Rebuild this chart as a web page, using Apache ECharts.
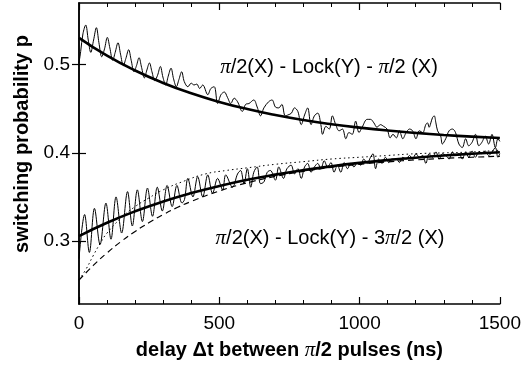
<!DOCTYPE html>
<html>
<head>
<meta charset="utf-8">
<script src="https://cdn.jsdelivr.net/npm/echarts@6/dist/echarts.min.js"></script>
<style>html,body{margin:0;padding:0;background:#fff;}#c{width:524px;height:366px;}</style>
</head>
<body>
<div id="c"></div>
<script>
// ---- data ----
const xTicks = [0, 500, 1000, 1500];
const yTicks = [0.3, 0.4, 0.5];

// noisy trace: pi/2(X) - Lock(Y) - pi/2(X)
const upperTime = [
  0,6,14,24,33,42,52,62,71,81,91,101,110,120,129,139,148,158,167,177,
  186,196,205,214,223,233,242,251,260,270,280,290,299,309,318,328,337,347,356,366,375,388,
  400,410,420,430,441,459,470,482,494,506,518,529,541,553,565,582,594,606,623,635,
  647,659,676,688,700,712,723,735,
  745,757,768,780,792,804,815,827,839,851,862,868,880,892,903,915,927,939,951,962,
  974,986,998,1009,1027,1039,1051,1062,1074,1086,1098,1109,
  1119,1131,1142,1154,1166,1178,1189,1201,1213,1225,1236,1242,1248,1254,1260,1266,1272,1278,1289,1295,
  1307,1319,1331,1342,1354,1366,1378,1389,1401,1413,1425,1436,1448,1460,1472,1484,1493,1500
];
const upperProb = [
  0.502,0.515,0.535,0.545,0.528,0.514,0.528,0.542,0.525,0.509,0.518,0.531,0.519,0.505,0.514,0.525,0.512,0.499,0.507,0.517,
  0.505,0.492,0.499,0.508,0.497,0.485,0.494,0.502,0.492,0.482,0.488,0.498,0.486,0.477,0.487,0.496,0.484,0.475,0.483,0.492,0.481,0.475,
  0.479,0.477,0.478,0.473,0.477,0.466,0.473,0.475,0.456,0.466,0.469,0.463,0.456,0.462,0.458,0.447,0.455,0.456,0.460,0.452,
  0.442,0.451,0.458,0.460,0.452,0.451,0.455,0.442,
  0.443,0.445,0.451,0.447,0.432,0.443,0.451,0.432,0.442,0.445,0.432,0.421,0.430,0.427,0.442,0.432,0.425,0.427,0.416,0.423,
  0.421,0.436,0.423,0.429,0.438,0.438,0.434,0.429,0.432,0.430,0.427,0.417,
  0.421,0.417,0.425,0.416,0.423,0.427,0.425,0.416,0.425,0.423,0.432,0.434,0.429,0.434,0.440,0.442,0.434,0.425,0.419,0.410,
  0.416,0.425,0.427,0.423,0.410,0.406,0.416,0.408,0.412,0.421,0.408,0.412,0.419,0.410,0.421,0.406,0.416,0.413
];

// noisy trace: pi/2(X) - Lock(Y) - 3pi/2(X)
const lowerTime = [
  0,20,37,55,75,96,114,132,152,173,190,208,226,244,262,279,297,314,332,349,367,
  376,388,406,423,441,459,476,494,512,523,547,565,576,588,600,612,623,635,647,659,671,682,700,712,729,741,
  756,768,780,792,804,815,827,839,851,862,874,886,898,909,921,933,945,957,968,980,992,1004,1015,1027,1039,1048,1057,1068,1080,1092,1104,1115,
  1131,1142,1154,1166,1178,1189,1201,1213,1225,1236,1248,1260,1272,1284,1295,1307,1319,1331,1342,1354,1366,1378,1389,1401,1413,1425,1436,1448,1460,1472,1484,1493,1500
];
const lowerProb = [
  0.280,0.330,0.287,0.337,0.296,0.343,0.302,0.350,0.309,0.356,0.317,0.358,0.322,0.360,0.328,0.361,0.334,0.363,0.339,0.363,0.343,
  0.347,0.371,0.350,0.373,0.350,0.375,0.354,0.371,0.358,0.375,0.361,0.376,0.380,0.365,0.382,0.361,0.378,0.384,0.365,0.367,0.378,0.380,0.369,0.384,0.371,0.382,
  0.386,0.376,0.382,0.371,0.384,0.388,0.378,0.384,0.388,0.382,0.391,0.384,0.389,0.378,0.386,0.378,0.389,0.382,0.388,0.384,0.389,0.386,0.393,0.388,0.395,0.399,0.382,0.393,0.388,0.395,0.389,0.393,
  0.393,0.389,0.395,0.393,0.397,0.393,0.399,0.395,0.397,0.388,0.399,0.395,0.401,0.393,0.399,0.397,0.393,0.401,0.397,0.399,0.393,0.401,0.395,0.402,0.395,0.401,0.399,0.402,0.397,0.401,0.406,0.395,0.399
];

// fitted curves
const fitTime = [0,100,200,300,400,500,600,700,800,900,1000,1100,1200,1300,1400,1500];
const upperFit = [0.5305,0.5102,0.4934,0.4793,0.4676,0.4578,0.4497,0.4429,0.4372,0.4325,0.4286,0.4253,0.4226,0.4203,0.4184,0.4169];
const lowerFit = [0.3056,0.3207,0.3337,0.3448,0.3543,0.3624,0.3694,0.3753,0.3804,0.3848,0.3886,0.3918,0.3945,0.3969,0.3989,0.4006];

const dashTime = [0,50,100,150,200,250,300,350,400,500,600,700,800,900,1000,1100,1200,1300,1400,1500];
const dashProb = [0.2556,0.2720,0.2865,0.2994,0.3108,0.3209,0.3299,0.3379,0.3449,0.3567,0.3660,0.3733,0.3790,0.3835,0.3870,0.3898,0.3920,0.3937,0.3950,0.3961];

const dotTime = [0,25,50,75,100,150,200,250,300,375,450,525,600,700,800,900,1000,1100,1200,1300,1400,1500];
const dotProb = [0.256,0.268,0.283,0.297,0.309,0.326,0.339,0.349,0.358,0.368,0.376,0.380,0.383,0.387,0.390,0.393,0.395,0.397,0.399,0.400,0.401,0.403];

const pair = (xs, ys) => xs.map((x, i) => [x, ys[i]]);

const chart = echarts.init(document.getElementById('c'), null, {renderer: 'canvas'});
const SANS = '"Liberation Sans", Arial, sans-serif';
const SERIF = '"Liberation Serif", "Times New Roman", serif';
const axisLineStyle = {color: '#000', width: 1.5};
const labelFont = {color: '#000', fontSize: 19, fontFamily: SANS};
const piRich = {pi: {fontFamily: SERIF, fontSize: 21, fontStyle: 'italic', fill: '#000'}};

const option = {
  animation: false,
  backgroundColor: '#fff',
  grid: {left: 79, right: 20, top: 3, bottom: 57, containLabel: false},
  xAxis: [{
    type: 'value', position: 'bottom', min: 0, max: 1500, interval: 500,
    axisLine: {show: true, lineStyle: axisLineStyle},
    axisTick: {show: true, inside: true, length: 7, lineStyle: {color: '#000', width: 1.2}},
    minorTick: {show: true, splitNumber: 5, length: 4, lineStyle: {color: '#000', width: 1}},
    splitLine: {show: false}, minorSplitLine: {show: false},
    axisLabel: Object.assign({margin: 10, formatter: v => xTicks.includes(v) ? String(v) : ''}, labelFont),
    name: 'delay Δt between {pi|π}/2 pulses (ns)', nameLocation: 'middle', nameGap: 36,
    nameTextStyle: {color: '#000', fontSize: 20, fontWeight: 'bold', fontFamily: SANS,
      rich: {pi: {fontFamily: SERIF, fontSize: 21, fontStyle: 'italic', fontWeight: 'normal', color: '#000'}}}
  }, {
    type: 'value', position: 'top', min: 0, max: 1500, interval: 500,
    axisLine: {show: true, lineStyle: axisLineStyle},
    axisTick: {show: true, inside: true, length: 7, lineStyle: {color: '#000', width: 1.2}},
    minorTick: {show: true, splitNumber: 5, length: 4, lineStyle: {color: '#000', width: 1}},
    splitLine: {show: false}, axisLabel: {show: false}
  }],
  yAxis: [{
    type: 'value', position: 'left', min: 0.2285, max: 0.570,
    axisLine: {show: true, lineStyle: axisLineStyle},
    axisTick: {show: true, inside: true, length: 7, customValues: yTicks, lineStyle: {color: '#000', width: 1.2}},
    splitLine: {show: false},
    axisLabel: Object.assign({margin: 9, customValues: yTicks, formatter: v => v.toFixed(1)}, labelFont)
  }, {
    type: 'value', position: 'right', min: 0.2285, max: 0.570,
    axisLine: {show: true, lineStyle: axisLineStyle},
    axisTick: {show: true, inside: true, length: 7, customValues: yTicks, lineStyle: {color: '#000', width: 1.2}},
    splitLine: {show: false}, axisLabel: {show: false}
  }],
  graphic: [{
    type: 'text', x: 22, y: 144, rotation: Math.PI / 2, silent: true,
    style: {
      text: 'switching probability p', fill: '#000',
      font: 'bold 20px ' + SANS, textAlign: 'center', textVerticalAlign: 'middle'
    }
  }, {
    type: 'text', x: 329, y: 67, silent: true,
    style: {
      text: '{pi|π}/2(X) - Lock(Y) - {pi|π}/2 (X)',
      fill: '#000', font: '20px ' + SANS, textAlign: 'center', textVerticalAlign: 'middle',
      rich: piRich
    }
  }, {
    type: 'text', x: 330, y: 238, silent: true,
    style: {
      text: '{pi|π}/2(X) - Lock(Y) - 3{pi|π}/2 (X)',
      fill: '#000', font: '20px ' + SANS, textAlign: 'center', textVerticalAlign: 'middle',
      rich: piRich
    }
  }],
  series: [
    {type: 'line', data: pair(dashTime, dashProb), smooth: true, showSymbol: false, symbol: 'none',
     lineStyle: {color: '#000', width: 1.2, type: [6, 4]}, z: 2},
    {type: 'line', data: pair(dotTime, dotProb), smooth: true, showSymbol: false, symbol: 'none',
     lineStyle: {color: '#000', width: 1, type: [1.5, 3]}, z: 2},
    {type: 'line', data: pair(upperTime, upperProb), smooth: 0.35, showSymbol: false, symbol: 'none',
     lineStyle: {color: '#000', width: 1}, z: 3},
    {type: 'line', data: pair(lowerTime, lowerProb), smooth: 0.35, showSymbol: false, symbol: 'none',
     lineStyle: {color: '#000', width: 1}, z: 3},
    {type: 'line', data: pair(fitTime, upperFit), smooth: true, showSymbol: false, symbol: 'none',
     lineStyle: {color: '#000', width: 2.6}, z: 4},
    {type: 'line', data: pair(fitTime, lowerFit), smooth: true, showSymbol: false, symbol: 'none',
     lineStyle: {color: '#000', width: 2.6}, z: 4}
  ]
};
chart.setOption(option);
</script>
</body>
</html>
